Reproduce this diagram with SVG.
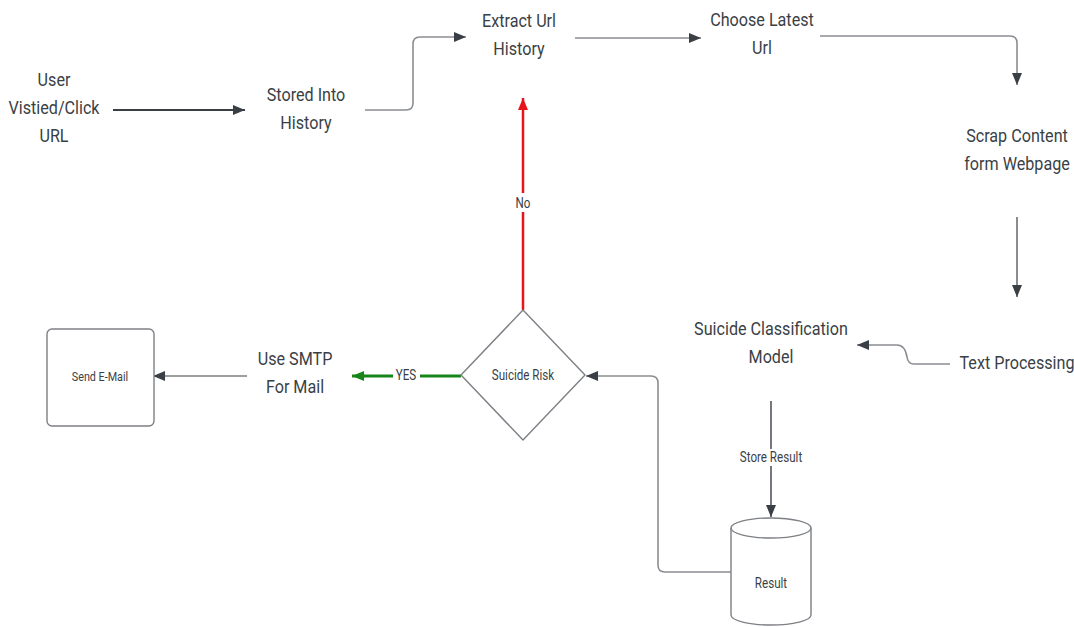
<svg xmlns="http://www.w3.org/2000/svg" width="1074" height="627" viewBox="0 0 1074 627">
<defs>
<style>
.t{font-family:Roboto,"Liberation Sans",sans-serif;font-size:19px;fill:#3a3f46;text-anchor:middle}
.s{font-family:Roboto,"Liberation Sans",sans-serif;font-size:14px;fill:#3a3f46;text-anchor:middle}
.c{fill:none;stroke:#3a3f46;stroke-width:1.8}
.g{fill:none;stroke:#8a8d92;stroke-width:1.6}
.shape{fill:#fff;stroke:#7d8085;stroke-width:1.4}
</style>
<marker id="ah" viewBox="0 0 12 10" refX="12" refY="5" markerWidth="12" markerHeight="10" markerUnits="userSpaceOnUse" orient="auto"><path d="M0,0 L12,5 L0,10 Z" fill="#3a3f46"/></marker>
<marker id="ahr" viewBox="0 0 12 10" refX="12" refY="5" markerWidth="13" markerHeight="10" markerUnits="userSpaceOnUse" orient="auto"><path d="M0,0 L12,5 L0,10 Z" fill="#e8141b"/></marker>
<marker id="ahg" viewBox="0 0 12 10" refX="12" refY="5" markerWidth="13" markerHeight="10" markerUnits="userSpaceOnUse" orient="auto"><path d="M0,0 L12,5 L0,10 Z" fill="#16861a"/></marker>
</defs>
<rect width="1074" height="627" fill="#fff"/>
<g id="connectors">
<path class="c" d="M113,110 H245" marker-end="url(#ah)"/>
<path class="g" d="M365,110 H406 Q413,110 413,103 V44 Q413,37 420,37 H466" marker-end="url(#ah)"/>
<path class="g" d="M575,38 H701" marker-end="url(#ah)"/>
<path class="g" d="M820,36 H1010 Q1017,36 1017,43 V85" marker-end="url(#ah)"/>
<path class="c" style="stroke-width:1.2" d="M1017,217 V297" marker-end="url(#ah)"/>
<path class="g" d="M950,364 H914 Q908,364 907,357 Q905,345 897,345 H857" marker-end="url(#ah)"/>
<path class="c" style="stroke-width:1.4" d="M771,401 V517" marker-end="url(#ah)"/>
<rect x="735" y="449" width="72" height="17" fill="#fff"/>
<text class="s" transform="matrix(0.83 0 0 1 771 462)">Store Result</text>
<path class="g" d="M731,572 H665 Q658,572 658,565 V383 Q658,376 651,376 H586" marker-end="url(#ah)"/>
<path fill="none" stroke="#e8141b" stroke-width="2.5" d="M523,310 V98" marker-end="url(#ahr)"/>
<rect x="510" y="193" width="26" height="19" fill="#fff"/>
<text class="s" transform="matrix(0.83 0 0 1 523 208)">No</text>
<path fill="none" stroke="#16861a" stroke-width="3" d="M461,376 H352" marker-end="url(#ahg)"/>
<rect x="393" y="367" width="27" height="17" fill="#fff"/>
<text class="s" transform="matrix(0.83 0 0 1 406 380)">YES</text>
<path class="c" style="stroke-width:1.2" d="M247,376 H153" marker-end="url(#ah)"/>
</g>
<g id="user">
<text class="t" transform="matrix(0.85 0 0 1 54 86)">User</text>
<text class="t" transform="matrix(0.85 0 0 1 54 114)">Vistied/Click</text>
<text class="t" transform="matrix(0.85 0 0 1 54 142)">URL</text>
</g>
<g id="stored">
<text class="t" transform="matrix(0.85 0 0 1 306 101)">Stored Into</text>
<text class="t" transform="matrix(0.85 0 0 1 306 129)">History</text>
</g>
<g id="extract">
<text class="t" transform="matrix(0.85 0 0 1 519 27)">Extract Url</text>
<text class="t" transform="matrix(0.85 0 0 1 519 55)">History</text>
</g>
<g id="choose">
<text class="t" transform="matrix(0.85 0 0 1 762 26)">Choose Latest</text>
<text class="t" transform="matrix(0.85 0 0 1 762 54)">Url</text>
</g>
<g id="scrap">
<text class="t" transform="matrix(0.85 0 0 1 1017 142)">Scrap Content</text>
<text class="t" transform="matrix(0.85 0 0 1 1017 170)">form Webpage</text>
</g>
<g id="textproc">
<text class="t" transform="matrix(0.85 0 0 1 1017 369)">Text Processing</text>
</g>
<g id="model">
<text class="t" transform="matrix(0.85 0 0 1 771 335)">Suicide Classification</text>
<text class="t" transform="matrix(0.85 0 0 1 771 363)">Model</text>
</g>
<g id="result">
<path class="shape" d="M731,528 V615 A40,10 0 0 0 811,615 V528"/>
<ellipse class="shape" cx="771" cy="528" rx="40" ry="10"/>
<text class="s" transform="matrix(0.83 0 0 1 771 588)">Result</text>
</g>
<g id="risk">
<path class="shape" d="M523,310 L585,375 L523,440 L461,375 Z" stroke-linejoin="round"/>
<text class="s" transform="matrix(0.83 0 0 1 523 380)">Suicide Risk</text>
</g>
<g id="smtp">
<text class="t" transform="matrix(0.85 0 0 1 295 365)">Use SMTP</text>
<text class="t" transform="matrix(0.85 0 0 1 295 393)">For Mail</text>
</g>
<g id="email">
<rect class="shape" x="47" y="329" width="107" height="97" rx="5"/>
<text class="s" style="font-size:13px" transform="matrix(0.83 0 0 1 100 381)">Send E-Mail</text>
</g>
</svg>
